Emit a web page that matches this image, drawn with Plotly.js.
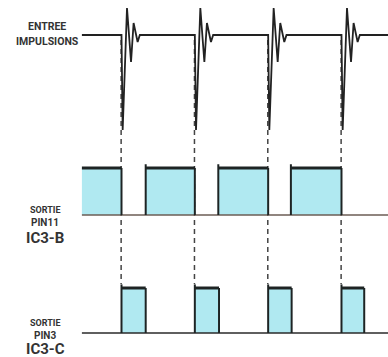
<!DOCTYPE html>
<html>
<head>
<meta charset="utf-8">
<script src="https://cdn.plot.ly/plotly-3.0.1.min.js"></script>
<style>html,body{margin:0;padding:0;background:#fff;}#chart{width:388px;height:357px;}</style>
</head>
<body>
<div id="chart"></div>
<script>
// ---- data (time in units of the input pulse period) ----
const impulseTimes = [1, 2, 3, 4];
const ringOffsets = [0, 0.016, 0.075, 0.13, 0.165, 0.22, 0.25];
const ringLevels  = [0, -1, 0.284, -0.284, 0.126, -0.074, 0];
const traceStart = 0.46;
const traceEnd = 4.64;
const ic3bRise = [0.46, 1.33, 2.32, 3.31];
const ic3bFall = [1, 2, 3, 4];
const ic3cRise = [1, 2, 3, 4];
const ic3cFall = [1.33, 2.33, 3.32, 4.31];
const labels = {
  input: ["ENTREE", "IMPULSIONS"],
  b: ["SORTIE", "PIN11", "IC3-B"],
  c: ["SORTIE", "PIN3", "IC3-C"]
};

// ---- build traces ----
const W = 388, H = 357;
const dark = '#1e2424';
const fill = '#b0e9f1';

const inX = [traceStart], inY = [0];
impulseTimes.forEach(t => {
  ringOffsets.forEach((o, i) => { inX.push(t + o); inY.push(ringLevels[i]); });
});
inX.push(traceEnd); inY.push(0);

function pulseParts(rise, fall, skipFirstLeft) {
  const fx = [], fy = [], vx = [], vy = [], tx = [], ty = [];
  rise.forEach((r, i) => {
    const f = fall[i];
    fx.push(r, r, f, f, null); fy.push(0, 1, 1, 0, null);
    if (!(skipFirstLeft && i === 0)) { vx.push(r, r, null); vy.push(0, 1.08, null); }
    vx.push(f, f, null); vy.push(1, 0, null);
    tx.push(r, f, null); ty.push(1, 1, null);
  });
  return {fx, fy, vx, vy, tx, ty};
}
const pb = pulseParts(ic3bRise, ic3bFall, true);
const pc = pulseParts(ic3cRise, ic3cFall, false);

function sigTraces(p, yaxis, baseColor) {
  return [
    {x: p.fx, y: p.fy, yaxis, mode: 'lines', fill: 'toself', fillcolor: fill, line: {width: 0}, hoverinfo: 'skip'},
    {x: [traceStart, traceEnd], y: [0, 0], yaxis, mode: 'lines', line: {color: baseColor, width: 1.5}, hoverinfo: 'skip'},
    {x: p.vx, y: p.vy, yaxis, mode: 'lines', line: {color: dark, width: 2}, hoverinfo: 'skip'},
    {x: p.tx, y: p.ty, yaxis, mode: 'lines', line: {color: dark, width: 3}, hoverinfo: 'skip'}
  ];
}

const data = [
  {x: inX, y: inY, yaxis: 'y', mode: 'lines', line: {color: '#222', width: 1.8}, hoverinfo: 'skip'},
  ...sigTraces(pb, 'y2', '#6b5c55'),
  ...sigTraces(pc, 'y3', '#2a2a2a')
];

function rangeFor(basePx, unitPx) { const hi = basePx / unitPx; return [hi - H / unitPx, hi]; }
const py = p => 1 - p / H;

const shapes = impulseTimes.map(t => ({
  type: 'line', xref: 'x', yref: 'paper', x0: t - 0.005, x1: t - 0.005, y0: py(40), y1: py(284),
  line: {color: '#444', width: 1.5, dash: '5px,4px'}, layer: 'below'
}));

const fam = 'Roboto, "Liberation Sans", sans-serif';
function ann(text, xp, yp, size) {
  return {text: '<b>' + text + '</b>', xref: 'paper', yref: 'paper', x: xp / W, y: py(yp),
    showarrow: false, xanchor: 'center', yanchor: 'middle', font: {family: fam, size, color: '#333'}};
}
const annotations = [
  ann(labels.input[0], 47, 27, 10.5),
  ann(labels.input[1], 47, 41, 10.5),
  ann(labels.b[0], 45, 210, 9),
  ann(labels.b[1], 45, 222, 10),
  ann(labels.b[2], 45, 238, 15),
  ann(labels.c[0], 45, 323, 9),
  ann(labels.c[1], 45, 335, 10),
  ann(labels.c[2], 45, 349, 15)
];

const period = 73.33, t0px = 121.5;
const layout = {
  width: W, height: H, margin: {l: 0, r: 0, t: 0, b: 0},
  paper_bgcolor: '#fff', plot_bgcolor: '#fff', showlegend: false,
  xaxis: {range: [1 - t0px / period, 1 + (W - t0px) / period], visible: false, fixedrange: true},
  yaxis: {range: rangeFor(35, 95), visible: false, fixedrange: true},
  yaxis2: {range: rangeFor(215, 47), overlaying: 'y', visible: false, fixedrange: true},
  yaxis3: {range: rangeFor(333, 45), overlaying: 'y', visible: false, fixedrange: true},
  shapes, annotations
};
Plotly.newPlot('chart', data, layout, {displayModeBar: false, staticPlot: true});
</script>
</body>
</html>
